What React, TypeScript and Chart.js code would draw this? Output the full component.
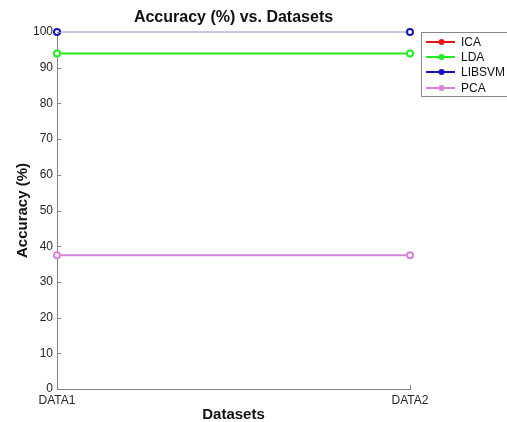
import { useEffect, useRef } from 'react';
import { Chart, registerables } from 'chart.js';

Chart.register(...registerables);

const categories = ['DATA1', 'DATA2'];
const seriesNames = ['ICA', 'LDA', 'LIBSVM', 'PCA'];
const icaValues = [94, 94];
const ldaValues = [94, 94];
const libsvmValues = [100, 100];
const pcaValues = [37.5, 37.5];
const yMin = 0;
const yMax = 100;
const yStep = 10;

const colors = ['#e81414', '#22ee22', '#1414c0', '#d884d8'];
const FONT = '"Liberation Sans", Arial, sans-serif';

const decorPlugin = {
  id: 'decor',
  afterDatasetsDraw(chart: any) {
    const ctx = chart.ctx;
    const { left, bottom } = chart.chartArea;
    const ys = chart.scales.y;
    const xs = chart.scales.x;
    ctx.save();
    ctx.strokeStyle = '#808080';
    ctx.lineWidth = 1;
    ctx.beginPath();
    ys.ticks.forEach((t: any) => {
      const py = Math.round(ys.getPixelForValue(t.value)) + 0.5;
      ctx.moveTo(left, py);
      ctx.lineTo(left + 4, py);
    });
    xs.ticks.forEach((_t: any, i: number) => {
      const px = Math.round(xs.getPixelForTick(i)) + 0.5;
      ctx.moveTo(px, bottom);
      ctx.lineTo(px, bottom - 4);
    });
    ctx.stroke();

    // legend
    const bx = 421.5;
    const by = 32.5;
    ctx.fillStyle = '#ffffff';
    ctx.fillRect(bx, by, 120, 64);
    ctx.strokeStyle = '#888888';
    ctx.strokeRect(bx, by, 120, 64);
    const rows = [42, 57, 72, 88];
    chart.data.datasets.forEach((ds: any, i: number) => {
      const yy = rows[i];
      const c = ds.pointBorderColor;
      ctx.strokeStyle = c;
      ctx.lineWidth = 2;
      ctx.beginPath();
      ctx.moveTo(426, yy);
      ctx.lineTo(455, yy);
      ctx.stroke();
      ctx.beginPath();
      ctx.arc(441.5, yy, 3, 0, Math.PI * 2);
      ctx.fillStyle = c;
      ctx.fill();
      ctx.fillStyle = '#111111';
      ctx.font = `12px ${FONT}`;
      ctx.textBaseline = 'middle';
      ctx.textAlign = 'left';
      ctx.fillText(ds.label, 461, yy + 0.5);
    });
    ctx.restore();
  },
};

export default function App() {
  const ref = useRef<HTMLCanvasElement | null>(null);

  useEffect(() => {
    document.body.style.margin = '0';
    const canvas = ref.current;
    if (!canvas) return;
    const valueSets = [icaValues, ldaValues, libsvmValues, pcaValues];
    const chart = new Chart(canvas, {
      type: 'line',
      data: {
        labels: categories,
        datasets: seriesNames.map((name, i) => ({
          label: name,
          data: valueSets[i],
          borderColor: name === 'LIBSVM' ? '#8c8cd0' : colors[i],
          borderWidth: name === 'LIBSVM' || name === 'ICA' ? 1 : 2,
          pointBorderColor: colors[i],
          pointBackgroundColor: '#ffffff',
          pointBorderWidth: name === 'ICA' ? 1 : 2,
          pointRadius: 3,
          tension: 0,
          fill: false,
          clip: false,
          order: name === 'ICA' ? 1 : 0,
        })),
      },
      options: {
        responsive: false,
        animation: false,
        layout: { padding: { left: 0, right: 97, top: 0, bottom: 0 } },
        plugins: {
          legend: { display: false },
          tooltip: { enabled: false },
          title: {
            display: true,
            text: 'Accuracy (%) vs. Datasets',
            fullSize: false,
            color: '#111111',
            font: { family: FONT, size: 16, weight: 'bold' },
            padding: { top: 8, bottom: 4.8 },
          },
        },
        scales: {
          x: {
            type: 'category',
            offset: false,
            grid: { display: false, drawTicks: false },
            border: { display: true, color: '#808080', width: 1 },
            ticks: {
              color: '#262626',
              font: { family: FONT, size: 12 },
              padding: 4,
              maxRotation: 0,
            },
            title: {
              display: true,
              text: 'Datasets',
              color: '#111111',
              font: { family: FONT, size: 15, weight: 'bold', lineHeight: 1 },
              padding: { top: -1.5, bottom: 0 },
            },
            afterFit: (s: any) => {
              s.height = 33;
            },
          },
          y: {
            min: yMin,
            max: yMax,
            grid: { display: false, drawTicks: false },
            border: { display: true, color: '#808080', width: 1 },
            ticks: {
              stepSize: yStep,
              color: '#262626',
              font: { family: FONT, size: 12 },
              padding: 4,
            },
            title: {
              display: true,
              text: 'Accuracy (%)',
              color: '#111111',
              font: { family: FONT, size: 15, weight: 'bold', lineHeight: 1.2 },
              padding: { top: 13.5, bottom: 0 },
            },
            afterFit: (s: any) => {
              s.width = 57;
            },
          },
        },
      },
      plugins: [decorPlugin],
    } as any);
    return () => chart.destroy();
  }, []);

  return (
    <div style={{ width: 507, height: 422 }}>
      <canvas ref={ref} width={507} height={422} style={{ display: 'block' }} />
    </div>
  );
}
